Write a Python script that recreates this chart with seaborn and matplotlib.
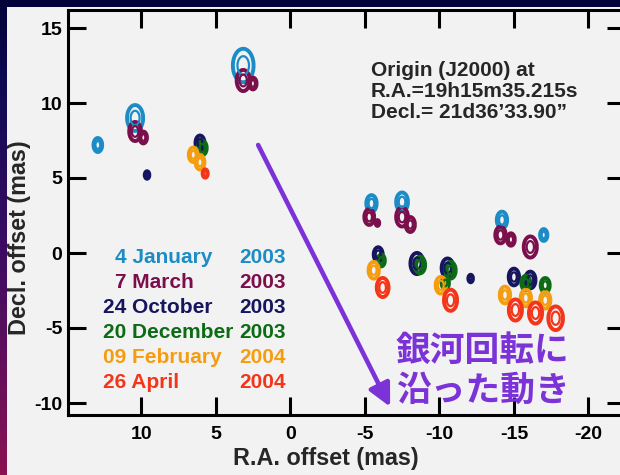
import numpy as np
import pandas as pd
import matplotlib
matplotlib.use("Agg")
import matplotlib.pyplot as plt
from matplotlib.path import Path
from matplotlib.patches import Rectangle
from matplotlib.colors import LinearSegmentedColormap
import seaborn as sns

# epochs and their colours
epochs = ["4 January", "7 March", "24 October", "20 December", "09 February", "26 April"]
years = ["2003", "2003", "2003", "2003", "2004", "2004"]
colors = ["#1c8cc6", "#7a0f4c", "#16165e", "#0d6b16", "#f59d10", "#f3351a"]

# maser spots (R.A. offset, Decl. offset, spot size) per epoch
jan_ra = [12.9, 10.4, 3.15, -5.45, -7.5, -14.2, -17.0]
jan_dec = [7.2, 9.0, 12.5, 3.3, 3.4, 2.2, 1.2]
jan_size = [70, 240, 400, 100, 130, 100, 50]

mar_ra = [10.4, 9.85, 3.15, 2.5, -5.3, -5.85, -7.5, -8.05, -14.1, -14.8, -16.1]
mar_dec = [8.1, 7.7, 11.5, 11.3, 2.4, 2.0, 2.4, 1.9, 1.2, 0.9, 0.4]
mar_size = [130, 50, 160, 50, 90, 12, 130, 80, 100, 55, 160]

oct_ra = [9.6, 6.05, -5.9, -8.5, -10.55, -12.1, -15.0, -16.1]
oct_dec = [5.2, 7.35, -0.1, -0.7, -1.0, -1.7, -1.6, -1.8]
oct_size = [20, 75, 75, 160, 130, 20, 100, 100]

dec_ra = [5.9, -6.1, -8.7, -10.75, -10.4, -15.8, -17.1]
dec_dec = [7.0, -0.5, -0.8, -1.15, -2.0, -2.0, -2.15]
dec_size = [75, 50, 100, 100, 50, 75, 75]

feb_ra = [6.5, 6.05, -5.6, -10.1, -14.4, -15.8, -17.1]
feb_dec = [6.55, 6.05, -1.15, -2.15, -2.8, -3.0, -3.15]
feb_size = [75, 75, 100, 100, 100, 100, 100]

apr_ra = [5.7, -6.2, -10.75, -15.1, -16.45, -17.8]
apr_dec = [5.3, -2.3, -3.15, -3.8, -4.0, -4.35]
apr_size = [25, 130, 160, 160, 160, 200]

ras = [jan_ra, mar_ra, oct_ra, dec_ra, feb_ra, apr_ra]
decs = [jan_dec, mar_dec, oct_dec, dec_dec, feb_dec, apr_dec]
sizes = [jan_size, mar_size, oct_size, dec_size, feb_size, apr_size]

rows = []
for ep, r, d, s in zip(epochs, ras, decs, sizes):
    for a, b, c in zip(r, d, s):
        rows.append({"epoch": ep, "ra": a, "dec": b, "size": c})
spots = pd.DataFrame(rows)
pal = dict(zip(epochs, colors))

sns.set_style("ticks")
plt.rcParams['font.family'] = ['Liberation Sans', 'DejaVu Sans']
plt.rcParams['font.weight'] = 'bold'
plt.rcParams['axes.unicode_minus'] = False

fig = plt.figure(figsize=(6.2, 4.75), dpi=100)

# slide background
bg = fig.add_axes([0, 0, 1, 1], zorder=-10)
cmap = LinearSegmentedColormap.from_list(
    "slide", [(0, "#02033a"), (0.2, "#100a55"), (0.55, "#3f0d62"), (1, "#8a1252")])
bg.imshow(np.linspace(0, 1, 256).reshape(-1, 1), aspect="auto", cmap=cmap,
          extent=[0, 1, 0, 1], origin="upper")
bg.add_patch(Rectangle((7 / 620, 0), 1, 1 - 7 / 475, color="#f2f2f2", lw=0))
bg.set_xlim(0, 1)
bg.set_ylim(0, 1)
bg.axis("off")

ax = fig.add_axes([68 / 620, 60 / 475, 557 / 620, 405 / 475])
ax.set_facecolor("#f2f2f2")

# elongated ring marker for the spot contours
t = np.linspace(0, 2 * np.pi, 60)
ring = Path(np.column_stack([0.62 * np.cos(t), np.sin(t)]))

smin, smax = spots["size"].min(), spots["size"].max()
k_out, k_in = 1.45, 0.45
sns.scatterplot(data=spots, x="ra", y="dec", hue="epoch", palette=pal,
                size="size", sizes=(smin * k_out, smax * k_out), size_norm=(smin, smax),
                marker=ring, legend=False, ax=ax, zorder=3)
sns.scatterplot(data=spots, x="ra", y="dec", hue="epoch", palette=pal,
                size="size", sizes=(smin * k_in, smax * k_in), size_norm=(smin, smax),
                marker=ring, legend=False, ax=ax, zorder=3)
for i, coll in enumerate(ax.collections):
    fc = coll.get_facecolors()
    coll.set_edgecolors(fc)
    coll.set_facecolors("none")
    coll.set_linewidths(2.8 if i == 0 else 1.6)

ax.set_xlim(14.9, -22.45)
ax.set_ylim(-10.8, 16.2)
ax.set_xticks([10, 5, 0, -5, -10, -15, -20])
ax.set_yticks([15, 10, 5, 0, -5, -10])
ax.tick_params(direction="in", length=13, width=2.2, top=True, right=True,
               labelsize=14, colors="black")
ax.tick_params(axis="x", pad=8)
ax.tick_params(axis="y", pad=4)
for sp in ax.spines.values():
    sp.set_linewidth(2.2)
    sp.set_color("black")

ax.set_xlabel("R.A. offset (mas)", fontsize=16.8, fontweight="bold")
ax.set_ylabel("Decl. offset (mas)", fontsize=16.8, fontweight="bold")
ax.xaxis.set_label_coords(0.463, -0.078)
ax.yaxis.set_label_coords(-0.066, 0.437)

ax.text(-5.4, 10.75, "Origin (J2000) at\nR.A.=19h15m35.215s\nDecl.= 21d36\u201933.90\u201d",
        fontsize=15, fontweight="bold", va="center", ha="left", linespacing=1.15)

# epoch list
name_x = [11.75, 11.75, 12.55, 12.55, 12.55, 12.55]
for k, (ep, yr, c) in enumerate(zip(epochs, years, colors)):
    yy = -0.33 - 1.667 * k
    ax.text(name_x[k], yy, ep, color=c, fontsize=15, fontweight="bold",
            ha="left", va="center")
    ax.text(3.4, yy, yr, color=c, fontsize=15, fontweight="bold",
            ha="left", va="center")

purple = "#7b33d8"
ax.annotate("", xy=(-6.7, -10.25), xytext=(2.15, 7.2),
            arrowprops=dict(arrowstyle="-|>", color=purple, lw=3.3,
                            mutation_scale=34, shrinkA=0, shrinkB=0))
ax.text(-7.1, -6.47, "銀河回転に", color=purple, fontsize=25, fontweight="bold",
        ha="left", va="center", family=["Noto Sans CJK JP", "DejaVu Sans"])
ax.text(-7.1, -9.13, "沿った動き", color=purple, fontsize=25, fontweight="bold",
        ha="left", va="center", family=["Noto Sans CJK JP", "DejaVu Sans"])

fig.savefig("out.png", dpi=100)
